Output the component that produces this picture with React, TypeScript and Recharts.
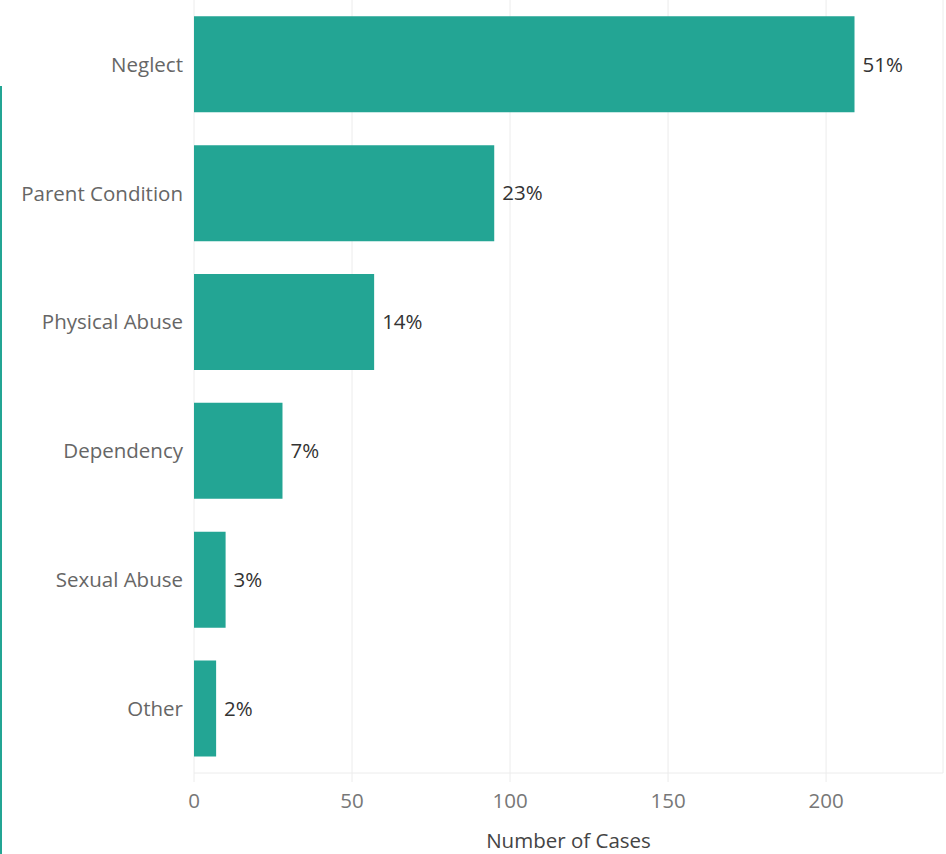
import { BarChart, Bar, XAxis, YAxis, CartesianGrid, LabelList } from "recharts";

const CATEGORIES = ["Neglect", "Parent Condition", "Physical Abuse", "Dependency", "Sexual Abuse", "Other"];
const CASES = [209, 95, 57, 28, 10, 7];
const SHARE_LABELS = ["51%", "23%", "14%", "7%", "3%", "2%"];
const X_TICKS = [0, 50, 100, 150, 200];

const data = CATEGORIES.map((name, i) => ({
  name,
  cases: CASES[i],
  share: SHARE_LABELS[i],
}));

const FONT = "'Open Sans', sans-serif";
const FS = 20.5;

export default function App() {
  return (
    <div style={{ position: "absolute", left: 0, top: 0, width: 946, height: 854, background: "#fff" }}>
      {/* cropped edge of a neighbouring panel */}
      <div style={{ position: "absolute", left: 0, top: 86, width: 2, height: 768, background: "#23a594" }} />
      <BarChart
        width={946}
        height={854}
        data={data}
        layout="vertical"
        margin={{ top: 0, right: 3, bottom: 0, left: 0 }}
        barCategoryGap="12.7%"
      >
        <CartesianGrid horizontal={false} stroke="#ececec" strokeWidth={1} />
        <XAxis
          type="number"
          dataKey="cases"
          domain={[0, 237]}
          ticks={X_TICKS}
          height={81}
          axisLine={{ stroke: "#ececec" }}
          tickLine={{ stroke: "#ececec" }}
          tickSize={9}
          tickMargin={11}
          tick={{ fontSize: FS, fill: "#777", fontFamily: FONT }}
          label={{
            value: "Number of Cases",
            position: "insideBottom",
            offset: 6,
            style: { fontSize: FS, fill: "#444", fontFamily: FONT },
          }}
        />
        <YAxis
          type="category"
          dataKey="name"
          width={194}
          axisLine={false}
          tickLine={false}
          tickMargin={5}
          tick={{ fontSize: FS, fill: "#666", fontFamily: FONT }}
        />
        <Bar dataKey="cases" fill="#23a594" isAnimationActive={false}>
          <LabelList
            dataKey="share"
            position="right"
            offset={8}
            style={{ fontSize: FS, fill: "#333", fontFamily: FONT }}
          />
        </Bar>
      </BarChart>
    </div>
  );
}
